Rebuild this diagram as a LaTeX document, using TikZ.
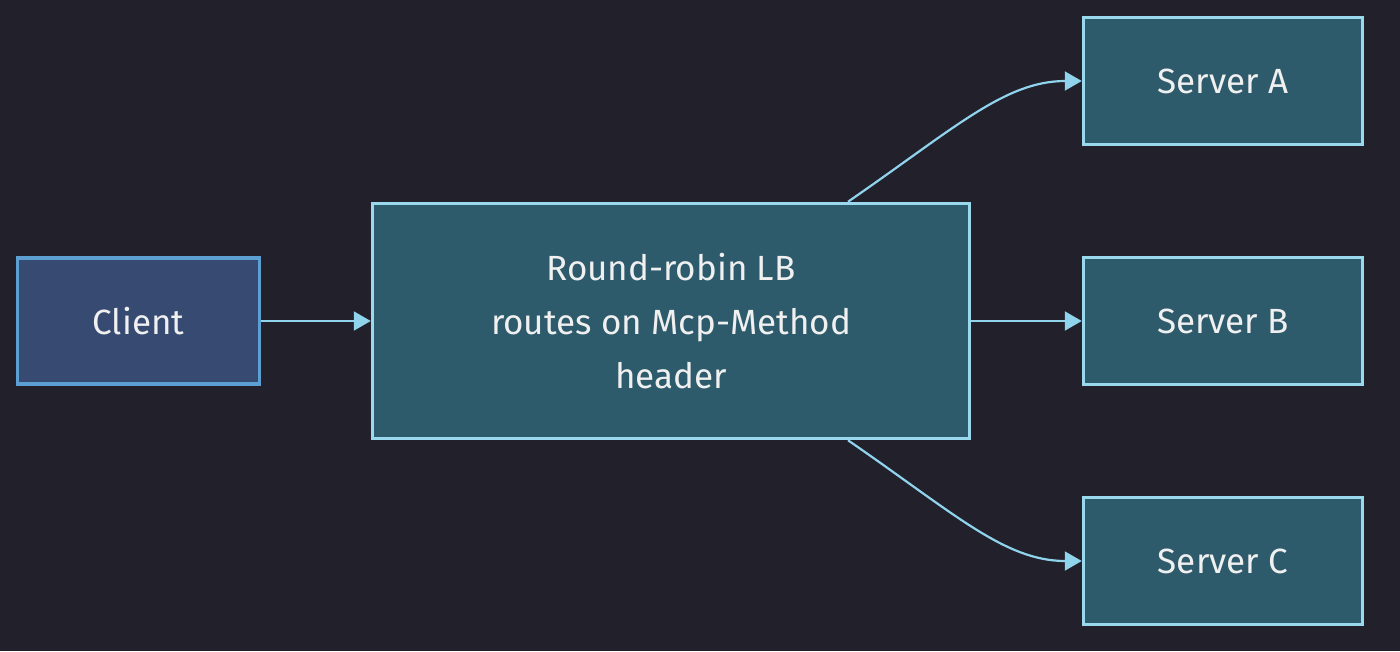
\documentclass[tikz,border=0pt]{standalone}
\usepackage{fontspec}
\setmainfont{Fira Sans}
\usetikzlibrary{arrows.meta}
\definecolor{bg}{HTML}{22202B}
\definecolor{clientfill}{HTML}{374A72}
\definecolor{clientline}{HTML}{5C9FD2}
\definecolor{boxfill}{HTML}{2D5B6C}
\definecolor{boxline}{HTML}{9AD8EE}
\definecolor{edge}{HTML}{8FD3EC}
\definecolor{txt}{HTML}{F0F0F0}
\tikzset{
  px/.style={x=1pt,y=-1pt},
  box/.style={draw=boxline, fill=boxfill, line width=3.5pt, inner sep=0pt, text=txt,
    font=\fontsize{35}{54}\selectfont, align=center},
  clientbox/.style={box, draw=clientline, fill=clientfill},
  conn/.style={draw=edge, line width=2.2pt, -{Triangle[length=17pt,width=19pt]}},
}
\begin{document}
\begin{tikzpicture}[px]
\fill[bg] (0,0) rectangle (1400,651);
\useasboundingbox (0,0) rectangle (1400,651);
\node[clientbox, minimum width=242pt, minimum height=126pt] (client) at (138.5,321) {Client};
\node[box, minimum width=597pt, minimum height=235pt] (lb) at (671,321) {Round-robin LB\\routes on Mcp-Method\\header};
\node[box, minimum width=279pt, minimum height=127pt] (sa) at (1223,81) {Server A};
\node[box, minimum width=279pt, minimum height=127pt] (sb) at (1223,321) {Server B};
\node[box, minimum width=279pt, minimum height=127pt] (sc) at (1223,561) {Server C};
\coordinate (lbtop) at (lb.north -| 848,0);
\coordinate (lbbot) at (lb.south -| 848,0);
\draw[conn] (client.east) -- (lb.west);
\draw[conn] (lb.east) -- (sb.west);
\draw[conn] (lbtop) .. controls (955,128) and (1005,81) .. (sa.west);
\draw[conn] (lbbot) .. controls (955,514) and (1005,561) .. (sc.west);
\end{tikzpicture}
\end{document}
